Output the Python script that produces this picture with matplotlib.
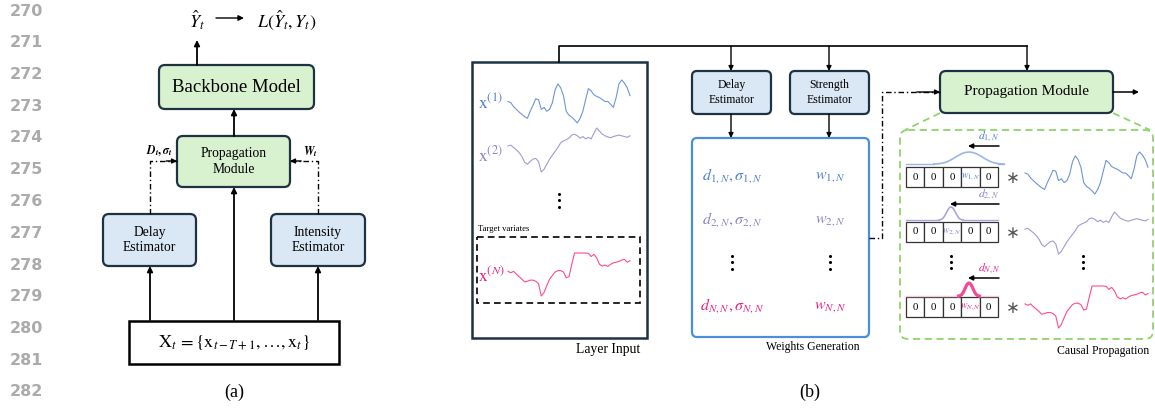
import numpy as np
import matplotlib
matplotlib.use('Agg')
import matplotlib.pyplot as plt
from matplotlib.patches import FancyBboxPatch, Rectangle

plt.rcParams['font.family'] = 'serif'
plt.rcParams['font.serif'] = ['Liberation Serif', 'DejaVu Serif']
plt.rcParams['mathtext.fontset'] = 'stix'

# line numbers in the margin
line_numbers = list(range(270, 283))

# series (arbitrary units, up = larger)
series_1 = [65, 62, 52, 45, 38, 32, 26, 22, 40, 55, 72, 70, 45, 50, 40, 45, 62, 95, 110, 100,
            80, 40, 30, 25, 18, 10, 22, 40, 70, 98, 92, 82, 78, 75, 70, 65, 65, 58, 50, 75,
            110, 120, 112, 100, 80]
series_2 = [82, 84, 78, 72, 65, 55, 40, 35, 42, 48, 50, 42, 15, 22, 35, 48, 58, 68, 78, 90,
            95, 98, 102, 110, 112, 108, 102, 106, 100, 104, 100, 115, 128, 120, 112, 108, 105, 103, 106, 108,
            110, 108, 106, 104, 108]
series_n = [80, 76, 80, 72, 65, 58, 50, 52, 55, 55, 52, 45, 10, 20, 40, 58, 68, 78, 82, 82,
            78, 62, 65, 100, 132, 132, 132, 132, 132, 131, 122, 128, 118, 100, 95, 98, 94, 100, 104, 106,
            108, 112, 114, 106, 110]

# kernel bumps (relative height)
bump = [0, 0.02, 0.06, 0.14, 0.28, 0.46, 0.66, 0.84, 0.96, 1.0, 0.96, 0.84, 0.66, 0.46, 0.28, 0.14, 0.06, 0.02, 0]

cells = [['0', '0', '0', r'$w_{1,N}$', '0'],
         ['0', '0', r'$w_{2,N}$', '0', '0'],
         ['0', '0', '0', r'$w_{N,N}$', '0']]

C1, C2, CN = '#4f7fd0', '#8a84c8', '#ec1f7e'
L1, L2, LN = '#6f95d6', '#a09bd6', '#ff4a92'
EDGE = '#1e3342'
GREEN = '#d8f1cf'
BLUE = '#dae7f4'

fig = plt.figure(figsize=(11.55, 4.08), dpi=100)
ax = fig.add_axes([0, 0, 1, 1])
ax.set_xlim(0, 1155)
ax.set_ylim(408, 0)
ax.axis('off')


def rbox(x0, y0, x1, y1, fc, ec=EDGE, lw=1.6, r=6, ls='-'):
    ax.add_patch(FancyBboxPatch((x0, y0), x1 - x0, y1 - y0,
                                boxstyle='round,pad=0,rounding_size=%g' % r,
                                fc=fc, ec=ec, lw=lw, ls=ls))


def arrow(x0, y0, x1, y1, lw=1.3, ms=8):
    ax.annotate('', xy=(x1, y1), xytext=(x0, y0),
                arrowprops=dict(arrowstyle='-|>', color='black', lw=lw,
                                shrinkA=0, shrinkB=0, mutation_scale=ms))


def dashdot(xs, ys):
    ax.plot(xs, ys, color='black', lw=1.0, ls=(0, (4, 2, 1, 2)))
    arrow(xs[-2] + (xs[-1] - xs[-2]) * 0.6, ys[-2] + (ys[-1] - ys[-2]) * 0.6, xs[-1], ys[-1], lw=1.0, ms=7)


def series(vals, x0, x1, ytop, ybot, color, lw=0.8):
    v = np.array(vals, dtype=float)
    x = np.linspace(x0, x1, len(v))
    y = ybot - (v - v.min()) / (v.max() - v.min()) * (ybot - ytop)
    ax.plot(x, y, color=color, lw=lw)


def vdots(x, y, gap=6.5, s=2.2):
    ax.scatter([x, x, x], [y - gap, y, y + gap], s=s * s, color='black', lw=0)


# margin numbers
for i, n in enumerate(line_numbers):
    ax.text(43, 11 + i * 31.75, str(n), ha='right', va='center', color='#ababab',
            fontsize=11.5, fontweight='bold', family='DejaVu Sans')

# ---------- panel (a) ----------
ax.text(197, 20, r'$\hat{Y}_t$', ha='center', va='center', fontsize=13)
arrow(216, 18, 244, 18, lw=1.0)
ax.text(287, 20, r'$L(\hat{Y}_t, Y_t)$', ha='center', va='center', fontsize=13)
arrow(197, 65, 197, 40)

rbox(159, 65, 314, 109, GREEN)
ax.text(236.5, 88, 'Backbone Model', ha='center', va='center', fontsize=13.5)
arrow(234, 136, 234, 109)

rbox(177, 136, 290, 187, GREEN)
ax.text(233.5, 161.5, 'Propagation\nModule', ha='center', va='center', fontsize=9.8, linespacing=1.25)

rbox(103, 214, 196, 266, BLUE)
ax.text(149.5, 240, 'Delay\nEstimator', ha='center', va='center', fontsize=9.8, linespacing=1.25)
rbox(271, 214, 365, 266, BLUE)
ax.text(318, 240, 'Intensity\nEstimator', ha='center', va='center', fontsize=9.8, linespacing=1.25)

ax.add_patch(Rectangle((129, 321), 210, 43, fc='white', ec='black', lw=1.8))
ax.text(234, 343, r'$\mathrm{X}_t\,=\{\mathrm{x}_{t-T+1},\ldots,\mathrm{x}_t\}$', ha='center', va='center', fontsize=13)

arrow(150, 320, 150, 266)
arrow(234, 320, 234, 187)
arrow(318, 320, 318, 266)
dashdot([150, 150, 177], [214, 161, 161])
dashdot([318, 318, 290], [214, 161, 161])
ax.text(159, 151, r'$\mathbfit{D}_{\mathbfit{t}}\mathbf{,}\,\mathbfit{\sigma}_{\mathbfit{t}}$', ha='center', va='center', fontsize=8.5)
ax.text(310, 152, r'$\mathbfit{W}_{\mathbfit{t}}$', ha='center', va='center', fontsize=8.5)
ax.text(234, 392, '(a)', ha='center', va='center', fontsize=13)

# ---------- panel (b) ----------
ax.plot([559, 559, 1027], [62, 46, 46], color='black', lw=1.2)
arrow(731, 46, 731, 71, lw=1.0, ms=7)
arrow(829, 46, 829, 71, lw=1.0, ms=7)
arrow(1027, 46, 1027, 71, lw=1.0, ms=7)

# layer input
ax.add_patch(Rectangle((472, 62), 175, 276, fc='white', ec=EDGE, lw=1.8))
ax.text(478, 103, r'$\mathrm{x}^{(1)}$', ha='left', va='center', fontsize=12.5, color=C1)
series(series_1, 508, 630, 80, 123, L1)
ax.text(478, 155, r'$\mathrm{x}^{(2)}$', ha='left', va='center', fontsize=12.5, color=C2)
series(series_2, 508, 630, 128, 172, L2)
vdots(559, 200)
ax.text(478, 229, 'Target variates', ha='left', va='center', fontsize=6.3)
ax.add_patch(Rectangle((477, 237), 163, 66, fc='none', ec='black', lw=1.2, ls=(0, (4, 2.5))))
ax.text(478, 276, r'$\mathrm{x}^{(N)}$', ha='left', va='center', fontsize=12.5, color=CN)
series(series_n, 508, 630, 253, 296, LN)
ax.text(608, 349, 'Layer Input', ha='center', va='center', fontsize=9.8)

# estimators
rbox(692, 71, 771, 114, BLUE, r=5)
ax.text(731.5, 92.5, 'Delay\nEstimator', ha='center', va='center', fontsize=8.5, linespacing=1.25)
rbox(790, 71, 869, 114, BLUE, r=5)
ax.text(829.5, 92.5, 'Strength\nEstimator', ha='center', va='center', fontsize=8.5, linespacing=1.25)
arrow(731, 114, 731, 138, lw=1.0, ms=7)
arrow(829, 114, 829, 138, lw=1.0, ms=7)

# weights generation
rbox(692, 138, 869, 337, 'white', ec='#4a8fdc', lw=1.6, r=5)
rows_y = [176, 220, 306]
row_cols = [C1, C2, CN]
for y, c, k in zip(rows_y, row_cols, ['1', '2', 'N']):
    ax.text(732, y, r'$d_{%s,N},\sigma_{%s,N}$' % (k, k), ha='center', va='center', fontsize=11.5, color=c)
    ax.text(830, y, r'$w_{%s,N}$' % k, ha='center', va='center', fontsize=11.5, color=c)
vdots(732, 262)
vdots(830, 262)
ax.text(813, 347, 'Weights Generation', ha='center', va='center', fontsize=8.5)

# propagation module
dashdot([869, 882, 882, 940], [238, 238, 92, 92])
rbox(940, 71, 1113, 113, GREEN, r=6)
ax.text(1026.5, 92, 'Propagation Module', ha='center', va='center', fontsize=11)
arrow(1113, 92, 1139, 92, lw=1.1, ms=7)

GD = '#8fd46c'
ax.plot([940, 905], [113, 130], color=GD, lw=1.3, ls=(0, (4, 2.5)))
ax.plot([1113, 1150], [113, 130], color=GD, lw=1.3, ls=(0, (4, 2.5)))
rbox(900, 130, 1153, 339, 'none', ec=GD, lw=1.3, r=8, ls=(0, (4, 2.5)))
ax.text(1103, 351, 'Causal Propagation', ha='center', va='center', fontsize=8.5)

# kernels + convolutions
kern = [(969, 22, 164, 12, '#9ab7e4', 1.2, L1, C1, 146, 152, 194),
        (951, 7.5, 220, 13, '#aaa6dc', 1.2, L2, C2, 204, 212, 254),
        (969, 6.5, 296, 13, '#f24a97', 2.3, LN, CN, 278, 286, 328)]
cell_top = [167, 222, 297]
cw = (998 - 906) / 5.0
for i, (px, hw, base, hgt, kc, klw, sc, tc, ay, sy0, sy1) in enumerate(kern):
    b = np.array(bump)
    bx = np.linspace(px - hw * 1.6, px + hw * 1.6, len(b))
    base_col = '#f9c6dc' if i == 2 else kc
    ax.plot([906, bx[0]], [base, base], color=base_col, lw=1.0)
    ax.plot([bx[-1], 998], [base, base], color=base_col, lw=1.0)
    ax.plot(bx, base - b * hgt, color=kc, lw=klw)
    arrow(999, ay, px - 1, ay, lw=1.1, ms=7)
    k = ['1', '2', 'N'][i]
    ax.text(989, ay - 9, r'$d_{%s,N}$' % k, ha='center', va='center', fontsize=8.5, color=tc)
    for j, lab in enumerate(cells[i]):
        ax.add_patch(Rectangle((906 + j * cw, cell_top[i]), cw, 19.5, fc='white', ec='#333333', lw=0.9))
        col = tc if lab.startswith('$') else 'black'
        ax.text(906 + (j + 0.5) * cw, cell_top[i] + 10, lab, ha='center', va='center',
                fontsize=7.0 if lab.startswith('$') else 7.8, color=col)
    ax.text(1013, cell_top[i] + 11, '\u2217', ha='center', va='center', fontsize=12, color='#555555',
            family='DejaVu Sans')
series(series_1, 1025, 1148, 152, 194, L1)
series(series_2, 1025, 1148, 212, 254, L2)
series(series_n, 1025, 1148, 286, 328, LN)
vdots(951, 262, gap=6)
vdots(1083, 262, gap=6)

ax.text(810, 392, '(b)', ha='center', va='center', fontsize=13)

fig.savefig('out.png', dpi=100)
